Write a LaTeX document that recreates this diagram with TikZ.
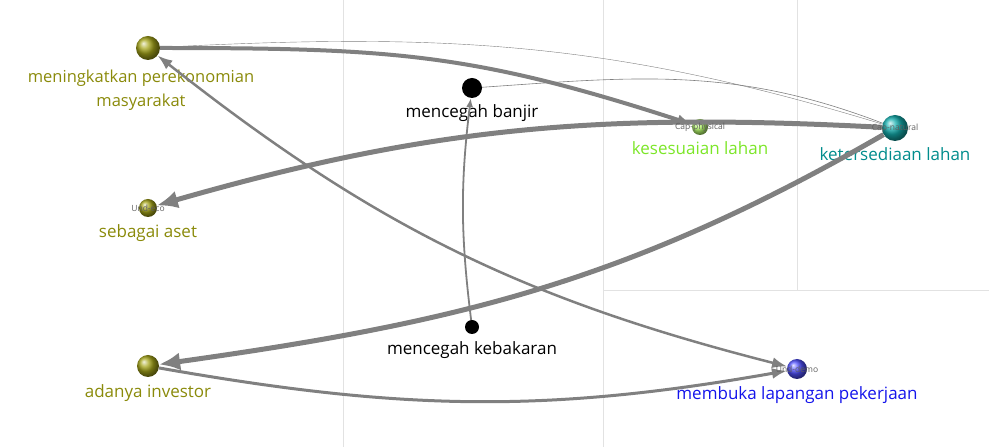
\documentclass[tikz,border=0pt]{standalone}
\usepackage{fontspec}
\setmainfont{Open Sans}
\usepackage{xcolor}
\usepackage{tikz}
\usetikzlibrary{arrows.meta,positioning}

\definecolor{olivenode}{RGB}{138,138,10}
\definecolor{oliveball}{RGB}{165,165,25}
\definecolor{fitgreen}{RGB}{124,230,40}
\definecolor{fitball}{RGB}{185,255,110}
\definecolor{natteal}{RGB}{0,140,140}
\definecolor{natball}{RGB}{20,175,175}
\definecolor{demoblue}{RGB}{20,20,235}
\definecolor{demoball}{RGB}{80,80,255}
\definecolor{linkgray}{RGB}{128,128,128}
\definecolor{gridgray}{RGB}{226,226,226}
\definecolor{taggray}{RGB}{95,95,95}

\tikzset{
  ball/.style={circle,inner sep=0pt,shading=ball,ball color=#1},
  dot/.style={circle,inner sep=0pt,fill=black},
  lbl/.style={font=\fontsize{17}{24}\selectfont,inner sep=0pt,text height=12.5pt,text depth=3.5pt},
  lbltwo/.style={font=\fontsize{16.5}{24}\selectfont,inner sep=0pt,align=center},
  tag/.style={font=\fontsize{8.5}{9}\selectfont,text=taggray,inner sep=0pt},
  link/.style={draw=linkgray},
  bighead/.style={-{Latex[length=21pt,width=18pt]}},
  midhead/.style={-{Latex[length=15pt,width=11pt]}},
}

\begin{document}
\begin{tikzpicture}[x=1pt,y=1pt]
\useasboundingbox (0,0) rectangle (989,447);
% grid lines
\draw[gridgray,semithick] (343,0) -- (343,447) (603,0) -- (603,447)
  (797,447) -- (797,157) (603,157) -- (989,157);
% nodes
\node[ball=oliveball,minimum size=24pt] (mem) at (148,399) {};
\node[ball=oliveball,minimum size=18pt] (seb) at (148,239) {};
\node[ball=oliveball,minimum size=22pt] (inv) at (148,81) {};
\node[dot,minimum size=20pt] (banjir) at (472,359) {};
\node[dot,minimum size=14pt] (keb) at (472,120) {};
\node[ball=fitball,minimum size=16pt] (kes) at (700,320) {};
\node[ball=natball,minimum size=26pt] (ket) at (895,319) {};
\node[ball=demoball,minimum size=20pt] (mmb) at (797,78) {};
% labels
\node[lbltwo,text=olivenode,below=9.5pt of mem,xshift=-7pt] (memlbl) {meningkatkan perekonomian\\masyarakat};
\node[lbl,text=olivenode,below=8pt of seb] (seblbl) {sebagai aset};
\node[lbl,text=olivenode,below=8pt of inv] (invlbl) {adanya investor};
\node[lbl,below=7pt of banjir] (banjirlbl) {mencegah banjir};
\node[lbl,below=8pt of keb] (keblbl) {mencegah kebakaran};
\node[lbl,text=fitgreen,below=7pt of kes] (keslbl) {kesesuaian lahan};
\node[lbl,text=natteal,below=7pt of ket] (ketlbl) {ketersediaan lahan};
\node[lbl,text=demoblue,below=8pt of mmb] (mmblbl) {membuka lapangan pekerjaan};
% links
\draw[link,line width=0.4pt] (ket) to[out=163,in=3] (mem);
\draw[link,line width=0.6pt] (ket) to[out=159,in=4] (banjir);
\draw[link,line width=1.8pt,-{Latex[length=9pt,width=7pt]}] (keb) to[bend left=7] (banjir);
\draw[link,line width=2.5pt,{Latex[length=15pt,width=11pt]}-{Latex[length=15pt,width=11pt]}] (mem) to[bend right=12] (mmb);
\draw[link,line width=3pt,midhead] (inv) to[out=-10,in=190] (mmb);
\draw[link,line width=4pt,midhead] (mem) to[out=0,in=162,looseness=1.1] (kes);
\draw[link,line width=5pt,bighead] (ket) to[out=177,in=16] (seb);
\draw[link,line width=5pt,bighead] (ket) to[out=210,in=8] (inv);
% small tags
\node[tag] (sebtag) at (seb) {Und-eco};
\node[tag] (kestag) at (kes) {Cap-physical};
\node[tag] (kettag) at (ket) {Cap-natural};
\node[tag] (mmbtag) at (mmb) {Und-demo};
\end{tikzpicture}
\end{document}
